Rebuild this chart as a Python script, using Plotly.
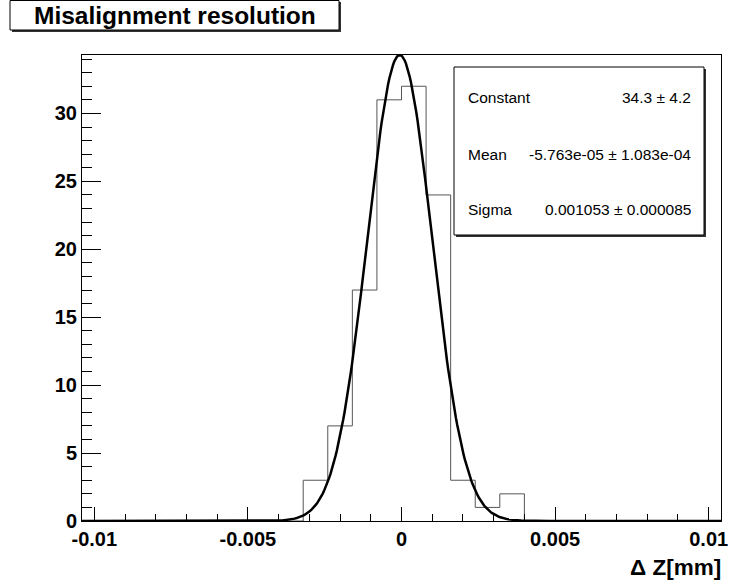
import numpy as np
import plotly.graph_objects as go

# ---------------- data ----------------
x_min = -0.0104
bin_width = 0.0008
counts = [0, 0, 0, 0, 0, 0, 0, 0, 0,
          3, 7, 17, 31, 32, 24, 3, 1, 2,
          0, 0, 0, 0, 0, 0, 0, 0]
fit_constant = 34.3
fit_mean = -5.763e-05
fit_sigma = 0.001053
stat_names = ["Constant", "Mean", "Sigma"]
stat_values = ["34.3 ± 4.2", "-5.763e-05 ± 1.083e-04", "0.001053 ± 0.000085"]
x_tickvals = [-0.01, -0.005, 0, 0.005, 0.01]
x_ticktext = ["-0.01", "-0.005", "0", "0.005", "0.01"]
y_tickvals = [0, 5, 10, 15, 20, 25, 30]
title_text = "Misalignment resolution"
x_title = "Δ Z[mm]"

# ---------------- derived ----------------
nb = len(counts)
edges = [x_min + i * bin_width for i in range(nb + 1)]
x_max = edges[-1]
step_y = counts + [counts[-1]]
xf = np.linspace(x_min, x_max, 500)
yf = fit_constant * np.exp(-0.5 * ((xf - fit_mean) / fit_sigma) ** 2)

FONT = "Liberation Sans"
W, H = 732, 584
L, R, T, B = 82, 721, 55, 521
PW, PH = R - L, B - T


def px(x):
    return (x - L) / PW


def py(y):
    return (B - y) / PH


fig = go.Figure()
fig.add_trace(go.Scatter(x=edges, y=step_y, mode="lines", line_shape="hv",
                         line=dict(color="#555555", width=1), showlegend=False,
                         hoverinfo="skip"))
fig.add_trace(go.Scatter(x=xf, y=yf, mode="lines",
                         line=dict(color="black", width=2.5), showlegend=False,
                         hoverinfo="skip"))

shapes = []
# title box with shadow
shapes.append(dict(type="rect", xref="paper", yref="paper",
                   x0=px(12), x1=px(341), y0=py(32), y1=py(2),
                   fillcolor="#333333", line=dict(width=0)))
shapes.append(dict(type="rect", xref="paper", yref="paper",
                   x0=px(10), x1=px(339), y0=py(30), y1=py(0.5),
                   fillcolor="white", line=dict(color="black", width=1)))
# stats box with shadow
shapes.append(dict(type="rect", xref="paper", yref="paper",
                   x0=px(456), x1=px(706), y0=py(237), y1=py(69),
                   fillcolor="#333333", line=dict(width=0)))
shapes.append(dict(type="rect", xref="paper", yref="paper",
                   x0=px(454), x1=px(704), y0=py(235), y1=py(67),
                   fillcolor="white", line=dict(color="black", width=1)))

annotations = []
annotations.append(dict(text="<b>" + title_text + "</b>", xref="paper", yref="paper",
                        x=px(175), y=py(16), xanchor="center", yanchor="middle",
                        showarrow=False, font=dict(family=FONT, size=24.5, color="black")))
for i, (n, v) in enumerate(zip(stat_names, stat_values)):
    yy = [97, 154, 209][i]
    annotations.append(dict(text=n, xref="paper", yref="paper", x=px(466), y=py(yy),
                            xanchor="left", yanchor="middle", showarrow=False,
                            font=dict(family=FONT, size=15.5, color="black")))
    annotations.append(dict(text=v, xref="paper", yref="paper", x=px(693), y=py(yy),
                            xanchor="right", yanchor="middle", showarrow=False,
                            font=dict(family=FONT, size=15.5, color="black")))
annotations.append(dict(text="<b>" + x_title + "</b>", xref="paper", yref="paper",
                        x=px(723), y=py(567), xanchor="right", yanchor="middle",
                        showarrow=False, font=dict(family=FONT, size=22.5, color="black")))

fig.update_layout(
    width=W, height=H,
    margin=dict(l=L, r=W - R, t=T, b=H - B, pad=0, autoexpand=False),
    paper_bgcolor="white", plot_bgcolor="white",
    shapes=shapes, annotations=annotations,
    xaxis=dict(range=[x_min, x_max], tickvals=x_tickvals, ticktext=x_ticktext,
               ticks="inside", ticklen=14, tickwidth=1, tickcolor="black",
               minor=dict(dtick=0.001, tick0=0, ticks="inside", ticklen=7,
                          tickcolor="black", showgrid=False),
               showline=True, linecolor="black", linewidth=1, mirror=True,
               showgrid=False, zeroline=False, automargin=False,
               tickfont=dict(family=FONT, size=20, color="black", weight="bold")),
    yaxis=dict(range=[0, 34.3], tickvals=y_tickvals,
               ticks="inside", ticklen=19, tickwidth=1, tickcolor="black",
               minor=dict(dtick=1, tick0=0, ticks="inside", ticklen=9.5,
                          tickcolor="black", showgrid=False),
               showline=True, linecolor="black", linewidth=1, mirror=True,
               showgrid=False, zeroline=False, automargin=False,
               tickfont=dict(family=FONT, size=20, color="black", weight="bold")),
)

fig.write_html("out.html", config={"displayModeBar": False},
               post_script="document.body.style.margin='0';document.body.style.padding='0';")
